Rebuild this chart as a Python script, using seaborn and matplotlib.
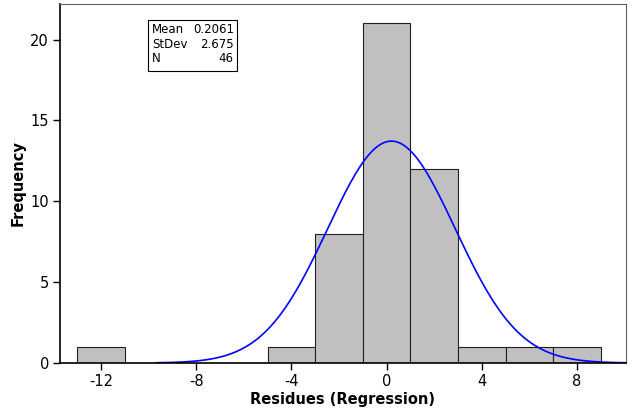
import numpy as np
import seaborn as sns
import matplotlib.pyplot as plt
from matplotlib.patches import Rectangle

# histogram of residues (bin width 2)
bin_edges = [-13, -11, -9, -7, -5, -3, -1, 1, 3, 5, 7, 9]
bin_centers = [-12, -10, -8, -6, -4, -2, 0, 2, 4, 6, 8]
counts = [1, 0, 0, 0, 1, 8, 21, 12, 1, 1, 1]

mean = 0.2061
stdev = 2.675
n = 46

xticks = [-12, -8, -4, 0, 4, 8]
yticks = [0, 5, 10, 15, 20]

sns.set_style("white")
plt.rcParams['font.family'] = ['DejaVu Sans']
plt.rcParams['axes.unicode_minus'] = False
plt.rcParams['text.color'] = 'black'
plt.rcParams['axes.labelcolor'] = 'black'

fig = plt.figure(figsize=(6.38, 4.12), dpi=100)
ax = fig.add_axes([60 / 638, (412 - 363) / 412, 566 / 638, 359 / 412])

sns.histplot(x=bin_centers, weights=counts, bins=bin_edges, color="#c0c0c0",
             edgecolor="#202020", linewidth=0.8, alpha=1, ax=ax)

# fitted normal curve scaled to counts
xs = np.linspace(mean - 3.7 * stdev, mean + 3.7 * stdev, 300)
ys = n * 2 / (stdev * np.sqrt(2 * np.pi)) * np.exp(-0.5 * ((xs - mean) / stdev) ** 2)
sns.lineplot(x=xs, y=ys, color="#0000ff", linewidth=1.2, ax=ax)

ax.set_xlim(-13.72, 10.06)
ax.set_ylim(0, 22.2)
ax.set_xticks(xticks)
ax.set_yticks(yticks)
ax.tick_params(axis="both", direction="out", length=5, width=1, labelsize=10.5, pad=3, colors="black")
ax.tick_params(bottom=True, left=True)
for side in ["left", "bottom"]:
    ax.spines[side].set_color("black")
    ax.spines[side].set_linewidth(1.2)
for side in ["top", "right"]:
    ax.spines[side].set_color("#606060")
    ax.spines[side].set_linewidth(0.8)

ax.set_xlabel("Residues (Regression)", fontsize=10.5, fontweight="bold", labelpad=2)
ax.set_ylabel("Frequency", fontsize=10.5, fontweight="bold", labelpad=3)

# stats box
ax.add_patch(Rectangle((0.155, 0.813), 0.158, 0.142, transform=ax.transAxes,
                       facecolor="white", edgecolor="black", linewidth=0.8, zorder=5))
ax.text(0.163, 0.947, "Mean\nStDev\nN", transform=ax.transAxes, fontsize=8.5,
        va="top", ha="left", linespacing=1.15, zorder=6)
ax.text(0.307, 0.947, f"{mean}\n{stdev}\n{n}", transform=ax.transAxes, fontsize=8.5,
        va="top", ha="right", linespacing=1.15, zorder=6)

fig.savefig("out.png", dpi=100)
